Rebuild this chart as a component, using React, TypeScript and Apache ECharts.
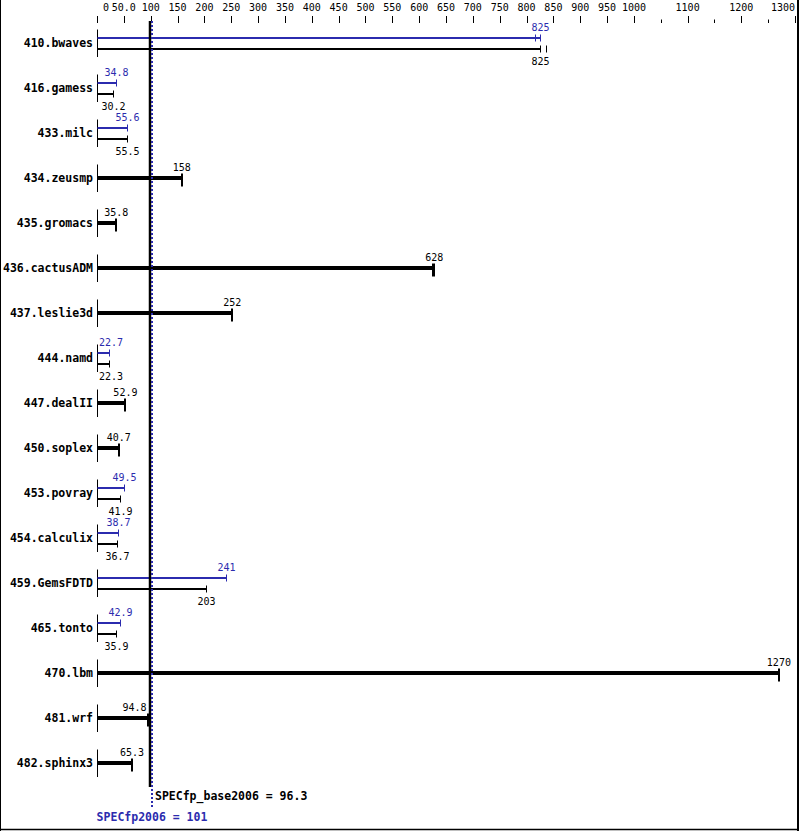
import React, { useEffect, useRef } from "react";
import * as echarts from "echarts";

const benchmarks = [
  "410.bwaves", "416.gamess", "433.milc", "434.zeusmp", "435.gromacs",
  "436.cactusADM", "437.leslie3d", "444.namd", "447.dealII", "450.soplex",
  "453.povray", "454.calculix", "459.GemsFDTD", "465.tonto", "470.lbm",
  "481.wrf", "482.sphinx3",
];
const baseValues = [825, 30.2, 55.5, 158, 35.8, 628, 252, 22.3, 52.9, 40.7, 41.9, 36.7, 203, 35.9, 1270, 94.8, 65.3];
const peakValues: (number | null)[] = [825, 34.8, 55.6, null, null, null, null, 22.7, null, null, 49.5, 38.7, 241, 42.9, null, null, null];
// extra run ticks visible next to the median marker
const baseExtraRun: (number | null)[] = [836, null, null, null, null, 623, null, null, null, null, null, null, null, null, null, null, null];
const peakExtraRun: (number | null)[] = [815, null, null, null, null, null, null, null, null, null, null, null, null, null, null, null, null];
const majorTicks = [0, 50, 100, 150, 200, 250, 300, 350, 400, 450, 500, 550, 600, 650, 700, 750, 800, 850, 900, 950, 1000, 1100, 1200, 1300];
const minorTicks = [1050, 1150, 1250];
const specBase = 96.3;
const specPeak = 101;

const BLUE = "#2b2bae";
const MONO = "'DejaVu Sans Mono', 'Liberation Mono', monospace";
const CW = 6.02; // char width 10px mono

function fmt(v: number) {
  return v >= 100 ? String(Math.round(v)) : v.toFixed(1);
}

export default function App() {
  const ref = useRef<HTMLDivElement>(null);
  useEffect(() => {
    if (!ref.current) return;
    const chart = echarts.init(ref.current, null, { renderer: "svg" });

    const rowData = benchmarks.map((_, i) => [
      i,
      baseValues[i],
      peakValues[i] == null ? NaN : peakValues[i],
      baseExtraRun[i] == null ? NaN : baseExtraRun[i],
      peakExtraRun[i] == null ? NaN : peakExtraRun[i],
    ]);

    let summaryLeft = 0;
    let summaryRight = 0;

    const labelX = (xEnd: number, text: string) => {
      const w = text.length * CW;
      let left = xEnd - w / 2;
      if (left < 99) left = 99;
      if (left + w > 798) left = 798 - w;
      // avoid overlapping the summary lines
      if (summaryLeft && left < summaryRight && left + w > summaryLeft && xEnd <= summaryLeft + 1) {
        left = summaryLeft - 2 - w;
      }
      return left;
    };

    const valText = (text: string, x: number, y: number, color: string) => ({
      type: "text",
      style: {
        text,
        x: labelX(x, text),
        y,
        fill: color,
        font: `10px ${MONO}`,
        align: "left",
        textAlign: "left",
        verticalAlign: "middle",
        textVerticalAlign: "middle",
      },
    });

    const option: any = {
      animation: false,
      grid: { left: 97, right: 4, top: 20.5, height: 765 },
      xAxis: {
        type: "value",
        position: "top",
        min: 0,
        max: 1300,
        interval: 50,
        axisLine: { show: false },
        axisTick: { show: false },
        splitLine: { show: false },
        axisLabel: {
          margin: 8,
          fontFamily: MONO,
          fontSize: 10,
          color: "#000",
          alignMinLabel: "left",
          alignMaxLabel: "right",
          formatter: (v: number) => {
            if (v > 1000 && v % 100 !== 0) return "";
            if (v === 50) return "50.0";
            if (v === 0) return " 0";
            return String(v);
          },
        },
      },
      yAxis: {
        type: "category",
        inverse: true,
        data: benchmarks,
        axisLine: { show: false },
        axisTick: { show: false },
        splitLine: { show: false },
        axisLabel: {
          margin: 4,
          fontFamily: MONO,
          fontSize: 11.5,
          fontWeight: "bold",
          color: "#000",
        },
      },
      series: [
        {
          type: "custom",
          name: "ticks",
          clip: false,
          silent: true,
          data: [
            ...majorTicks.map((v) => [v, 1]),
            ...minorTicks.map((v) => [v, 0]),
          ],
          encode: { x: 0 },
          renderItem: (params: any, api: any) => {
            const v = api.value(0);
            const major = api.value(1) === 1;
            const x = Math.round(api.coord([v, 0])[0]) + 0.5;
            const y2 = 23;
            const y1 = major ? 16 : 19.5;
            return {
              type: "line",
              shape: { x1: x, y1, x2: x, y2 },
              style: { stroke: "#000", lineWidth: 1 },
            };
          },
        },
        {
          type: "custom",
          name: "results",
          clip: false,
          silent: true,
          data: rowData,
          encode: { x: 1, y: 0 },
          renderItem: (params: any, api: any) => {
            const row = api.value(0);
            const b = api.value(1);
            const p = api.value(2);
            const be = api.value(3);
            const pe = api.value(4);
            const [x0raw, c] = api.coord([0, row]);
            summaryLeft = Math.round(api.coord([specBase, row])[0]) - 0.5;
            summaryRight = Math.round(api.coord([specPeak, row])[0]) + 2;
            const x0 = Math.round(x0raw) + 0.5;
            const px = (v: number) => Math.round(api.coord([v, row])[0]) + 0.5;
            const children: any[] = [];
            children.push({
              type: "line",
              shape: { x1: x0, y1: c - 13.5, x2: x0, y2: c + 14 },
              style: { stroke: "#000", lineWidth: 1 },
            });
            if (!isNaN(p)) {
              const yp = Math.round(c - 5);
              const yb = Math.round(c + 6);
              const xp = px(p);
              const xb = px(b);
              children.push({
                type: "line",
                shape: { x1: x0, y1: yp, x2: xp, y2: yp },
                style: { stroke: BLUE, lineWidth: 2 },
              });
              children.push({
                type: "line",
                shape: { x1: xp, y1: yp - 3.5, x2: xp, y2: yp + 3.5 },
                style: { stroke: BLUE, lineWidth: 1 },
              });
              if (!isNaN(pe)) {
                const xe = px(pe);
                children.push({
                  type: "line",
                  shape: { x1: xe, y1: yp - 3.5, x2: xe, y2: yp + 3.5 },
                  style: { stroke: BLUE, lineWidth: 1 },
                });
              }
              children.push({
                type: "line",
                shape: { x1: x0, y1: yb, x2: xb, y2: yb },
                style: { stroke: "#000", lineWidth: 2 },
              });
              children.push({
                type: "line",
                shape: { x1: xb, y1: yb - 3.5, x2: xb, y2: yb + 3.5 },
                style: { stroke: "#000", lineWidth: 1 },
              });
              if (!isNaN(be)) {
                const xe = px(be);
                children.push({
                  type: "line",
                  shape: { x1: xe, y1: yb - 3.5, x2: xe, y2: yb + 3.5 },
                  style: { stroke: "#000", lineWidth: 1 },
                });
              }
              children.push(valText(fmt(p), xp, c - 16, BLUE));
              children.push(valText(fmt(b), xb, c + 18, "#000"));
            } else {
              const xb = api.coord([b, row])[0];
              children.push({
                type: "rect",
                shape: { x: x0 - 0.5, y: Math.round(c) - 2, width: xb - x0 + 0.5, height: 4 },
                style: { fill: "#000" },
              });
              const xc = Math.round(xb);
              children.push({
                type: "line",
                shape: { x1: xc, y1: Math.round(c) - 4.5, x2: xc, y2: Math.round(c) + 8.5 },
                style: { stroke: "#000", lineWidth: 2 },
              });
              if (!isNaN(be)) {
                const xe = Math.round(api.coord([be, row])[0]) + 0.5;
                children.push({
                  type: "line",
                  shape: { x1: xe, y1: Math.round(c) - 4.5, x2: xe, y2: Math.round(c) + 8.5 },
                  style: { stroke: "#000", lineWidth: 1 },
                });
              }
              children.push(valText(fmt(b), xb, c - 11, "#000"));
            }
            return { type: "group", children };
          },
        },
        {
          type: "custom",
          name: "summary",
          clip: false,
          silent: true,
          data: [[specBase, specPeak]],
          encode: { x: [0, 1] },
          renderItem: (params: any, api: any) => {
            const xb = Math.round(api.coord([api.value(0), 0])[0]) + 1;
            const xp = Math.round(api.coord([api.value(1), 0])[0]) + 1;
            return {
              type: "group",
              children: [
                {
                  type: "line",
                  shape: { x1: xb, y1: 21, x2: xb, y2: 787 },
                  style: { stroke: "#000", lineWidth: 2.5 },
                },
                {
                  type: "line",
                  shape: { x1: xp, y1: 21, x2: xp, y2: 808 },
                  style: { stroke: BLUE, lineWidth: 2, lineDash: [2, 2] },
                },
                {
                  type: "text",
                  style: {
                    text: `SPECfp_base2006 = ${specBase}`,
                    x: xp + 3,
                    y: 795.5,
                    fill: "#000",
                    font: `bold 11.5px ${MONO}`,
                    align: "left",
                    textAlign: "left",
                    verticalAlign: "middle",
                    textVerticalAlign: "middle",
                  },
                },
                {
                  type: "text",
                  style: {
                    text: `SPECfp2006 = ${specPeak}`,
                    x: xp,
                    y: 817,
                    fill: BLUE,
                    font: `bold 11.5px ${MONO}`,
                    align: "center",
                    textAlign: "center",
                    verticalAlign: "middle",
                    textVerticalAlign: "middle",
                  },
                },
              ],
            };
          },
        },
      ],
      graphic: [
        { type: "line", shape: { x1: 0.5, y1: 0, x2: 0.5, y2: 831 }, style: { stroke: "#000", lineWidth: 1 } },
        { type: "line", shape: { x1: 798, y1: 0, x2: 798, y2: 831 }, style: { stroke: "#000", lineWidth: 2 } },
        { type: "line", shape: { x1: 0, y1: 829.5, x2: 799, y2: 829.5 }, style: { stroke: "#000", lineWidth: 1.5 } },
      ],
    };
    chart.setOption(option);
    return () => chart.dispose();
  }, []);

  return (
    <div
      ref={ref}
      style={{ position: "fixed", left: 0, top: 0, width: 799, height: 831, background: "#fff" }}
    />
  );
}
